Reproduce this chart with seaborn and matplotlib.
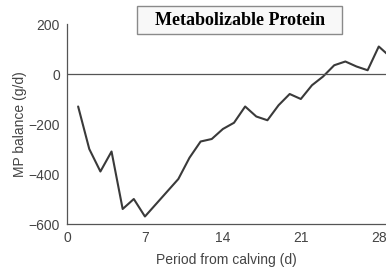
import matplotlib
matplotlib.use("Agg")
import matplotlib.pyplot as plt
from matplotlib.patches import Rectangle
import seaborn as sns
import pandas as pd

days = [1, 2, 3, 4, 5, 6, 7, 8, 9, 10, 11, 12, 13, 14, 15, 16, 17, 18, 19, 20,
        21, 22, 23, 24, 25, 26, 27, 28, 29]
mp_balance = [-130, -300, -390, -310, -540, -500, -570, -520, -470, -420, -335, -270,
              -260, -220, -195, -130, -170, -185, -125, -80, -100, -45, -10, 35, 50,
              30, 15, 110, 70]
x_ticks = [0, 7, 14, 21, 28]
y_ticks = [-600, -400, -200, 0, 200]

df = pd.DataFrame({"day": days, "mp": mp_balance})

sns.set_style("white")
plt.rcParams["font.family"] = ["Liberation Sans", "DejaVu Sans"]

W, H = 386, 267
fig = plt.figure(figsize=(3.86, 2.67), dpi=100)
ax = fig.add_axes([67 / W, 43 / H, 1 - 67 / W, (224 - 24) / H])

sns.lineplot(data=df, x="day", y="mp", ax=ax, color="#3a3a3a", linewidth=1.5)
ax.axhline(0, color="#555555", linewidth=0.9)

ax.set_xlim(0, 28.65)
ax.set_ylim(-600, 200)
ax.set_xticks(x_ticks)
ax.set_yticks(y_ticks)
ax.set_yticklabels(["\u2212600", "\u2212400", "\u2212200", "0", "200"])
ax.tick_params(axis="y", length=3, width=0.8, color="#555555", labelsize=10,
               labelcolor="#444444", pad=2)
ax.tick_params(axis="x", length=0, labelsize=10, labelcolor="#444444", pad=5)

for side in ["top", "right"]:
    ax.spines[side].set_visible(False)
for side in ["left", "bottom"]:
    ax.spines[side].set_color("#555555")
    ax.spines[side].set_linewidth(0.9)

ax.set_xlabel("Period from calving (d)", fontsize=10, color="#444444", labelpad=6)
ax.set_ylabel("MP balance (g/d)", fontsize=10, color="#444444", labelpad=1)

# title box with a light shadow
fig.patches.append(Rectangle((138 / W, 1 - 35 / H), 205 / W, 28 / H,
                             transform=fig.transFigure, facecolor="#d0d0d0",
                             edgecolor="none", zorder=5))
fig.patches.append(Rectangle((137 / W, 1 - 34 / H), 205 / W, 28 / H,
                             transform=fig.transFigure, facecolor="#f8f8f8",
                             edgecolor="#8a8a8a", linewidth=1.0, zorder=6))
fig.text(240 / W, 1 - 20.5 / H, "Metabolizable Protein", ha="center", va="center",
         fontsize=13, fontweight="bold", family="Liberation Serif", color="black",
         zorder=7)

fig.savefig("out.png", dpi=100)
